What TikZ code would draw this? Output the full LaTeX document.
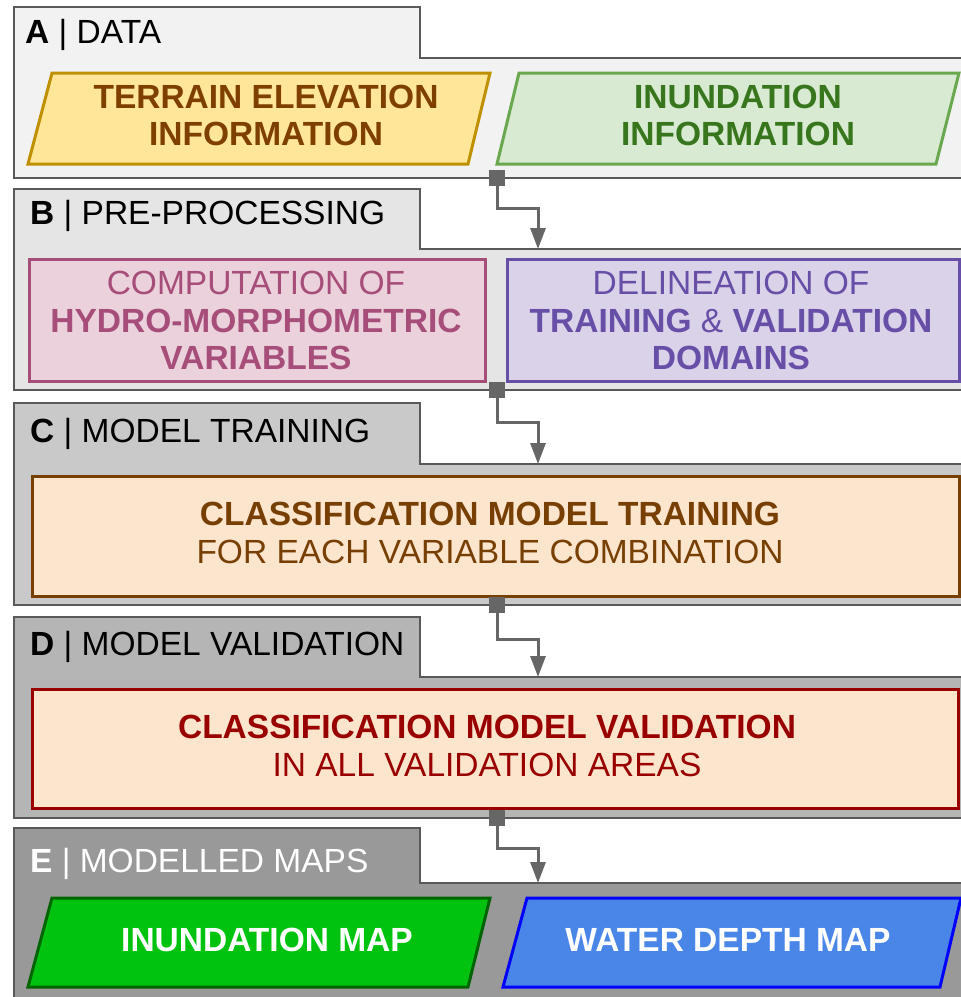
\documentclass[tikz,border=0pt]{standalone}
\usepackage{fontspec}
\setmainfont{Liberation Sans}
\usetikzlibrary{arrows.meta}
\definecolor{panelline}{HTML}{595959}
\definecolor{conn}{HTML}{666666}
\definecolor{pA}{HTML}{F2F2F2}
\definecolor{pB}{HTML}{E5E5E5}
\definecolor{pC}{HTML}{C9C9C9}
\definecolor{pD}{HTML}{B5B5B5}
\definecolor{pE}{HTML}{999999}
\definecolor{terFill}{HTML}{FFE699}
\definecolor{terLine}{HTML}{BF9000}
\definecolor{terText}{HTML}{7F3F00}
\definecolor{innFill}{HTML}{D9EAD3}
\definecolor{innLine}{HTML}{6AA84F}
\definecolor{innText}{HTML}{38761D}
\definecolor{comFill}{HTML}{EAD1DC}
\definecolor{comLine}{HTML}{A64D79}
\definecolor{delFill}{HTML}{D9D2E9}
\definecolor{delLine}{HTML}{674EA7}
\definecolor{traFill}{HTML}{FCE5CD}
\definecolor{traLine}{HTML}{783F04}
\definecolor{valLine}{HTML}{990000}
\definecolor{mapFill}{HTML}{00C30F}
\definecolor{mapLine}{HTML}{006400}
\definecolor{depFill}{HTML}{4A86E8}
\definecolor{depLine}{HTML}{0000FF}
\tikzset{
  panel/.style={draw=panelline, line width=2pt},
  boxline/.style={line width=3pt, line join=miter},
  txt/.style={align=center, inner sep=0pt, font=\fontsize{33.5}{37.5}\selectfont},
  heading/.style={anchor=base west, inner sep=0pt, font=\fontsize{33.5}{37.5}\selectfont},
  connline/.style={draw=conn, line width=3pt, -{Triangle[width=15pt,length=21pt]}},
  connsq/.style={fill=conn, minimum width=16pt, minimum height=16pt, inner sep=0pt, draw=none}
}
\begin{document}
\begin{tikzpicture}[x=1pt,y=-1pt]
\useasboundingbox (0,0) rectangle (961,997);
\clip (0,0) rectangle (961,997);
\fill[white] (0,0) rectangle (961,997);
% panels
\path[panel, fill=pA] (14,7) -- (420,7) -- (420,58) -- (975,58) -- (975,178) -- (14,178) -- cycle;
\path[panel, fill=pB] (14,189) -- (420,189) -- (420,249) -- (975,249) -- (975,390) -- (14,390) -- cycle;
\path[panel, fill=pC] (14,403) -- (420,403) -- (420,464) -- (975,464) -- (975,605) -- (14,605) -- cycle;
\path[panel, fill=pD] (14,617) -- (420,617) -- (420,677) -- (975,677) -- (975,818) -- (14,818) -- cycle;
\path[panel, fill=pE] (14,828) -- (420,828) -- (420,883) -- (975,883) -- (975,1010) -- (14,1010) -- cycle;
% headings
\node[heading] (hA) at (25,43) {\textbf{A} | DATA};
\node[heading] (hB) at (30,224) {\textbf{B} | PRE-PROCESSING};
\node[heading] (hC) at (30,442) {\textbf{C} | MODEL TRAINING};
\node[heading] (hD) at (30,655) {\textbf{D} | MODEL VALIDATION};
\node[heading, text=white] (hE) at (30,872) {\textbf{E} | MODELLED MAPS};
% A boxes
\draw[boxline, draw=terLine, fill=terFill] (52,73) -- (490,73) -- (468,164) -- (28,164) -- cycle;
\node[txt, text=terText, font=\fontsize{33.5}{37.5}\selectfont\bfseries] (ter) at (266,115.5) {TERRAIN ELEVATION\\INFORMATION};
\draw[boxline, draw=innLine, fill=innFill] (519,73) -- (959,73) -- (936,164) -- (497,164) -- cycle;
\node[txt, text=innText, font=\fontsize{33.5}{37.5}\selectfont\bfseries] (inn) at (738,115.5) {INUNDATION\\INFORMATION};
% B boxes
\draw[boxline, draw=comLine, fill=comFill] (29,259) rectangle (485,381);
\node[txt, text=comLine] (com) at (256,320.5) {COMPUTATION OF\\\textbf{HYDRO-MORPHOMETRIC}\\\textbf{VARIABLES}};
\draw[boxline, draw=delLine, fill=delFill] (507,259) rectangle (959,381);
\node[txt, text=delLine] (del) at (731,320.5) {DELINEATION OF\\\textbf{TRAINING} \& \textbf{VALIDATION}\\\textbf{DOMAINS}};
% C box
\draw[boxline, draw=traLine, fill=traFill] (32,476) rectangle (959,596);
\node[txt, text=traLine] (tra) at (490,533) {\textbf{CLASSIFICATION MODEL TRAINING}\\FOR EACH VARIABLE COMBINATION};
% D box
\draw[boxline, draw=valLine, fill=traFill] (32,689) rectangle (958,808);
\node[txt, text=valLine] (val) at (487,746) {\textbf{CLASSIFICATION MODEL VALIDATION}\\IN ALL VALIDATION AREAS};
% E boxes
\draw[boxline, draw=mapLine, fill=mapFill] (52,898) -- (490,898) -- (468,987) -- (28,987) -- cycle;
\node[txt, text=white, font=\fontsize{33.5}{37.5}\selectfont\bfseries] (imap) at (267,940) {INUNDATION MAP};
\draw[boxline, draw=depLine, fill=depFill] (527,898) -- (961,898) -- (940,987) -- (503,987) -- cycle;
\node[txt, text=white, font=\fontsize{33.5}{37.5}\selectfont\bfseries] (dmap) at (728,940) {WATER DEPTH MAP};
% connectors
\coordinate (sAB) at (497,178); \coordinate (tAB) at (538,249);
\coordinate (sBC) at (497,390); \coordinate (tBC) at (538,464);
\coordinate (sCD) at (497,605); \coordinate (tCD) at (538,677);
\coordinate (sDE) at (497,818); \coordinate (tDE) at (538,883);
\draw[connline] (sAB) -- (497,208) -| (tAB);
\draw[connline] (sBC) -- (497,422) -| (tBC);
\draw[connline] (sCD) -- (497,639) -| (tCD);
\draw[connline] (sDE) -- (497,848) -| (tDE);
\node[connsq] (qAB) at (sAB) {};
\node[connsq] (qBC) at (sBC) {};
\node[connsq] (qCD) at (sCD) {};
\node[connsq] (qDE) at (sDE) {};
\end{tikzpicture}
\end{document}
